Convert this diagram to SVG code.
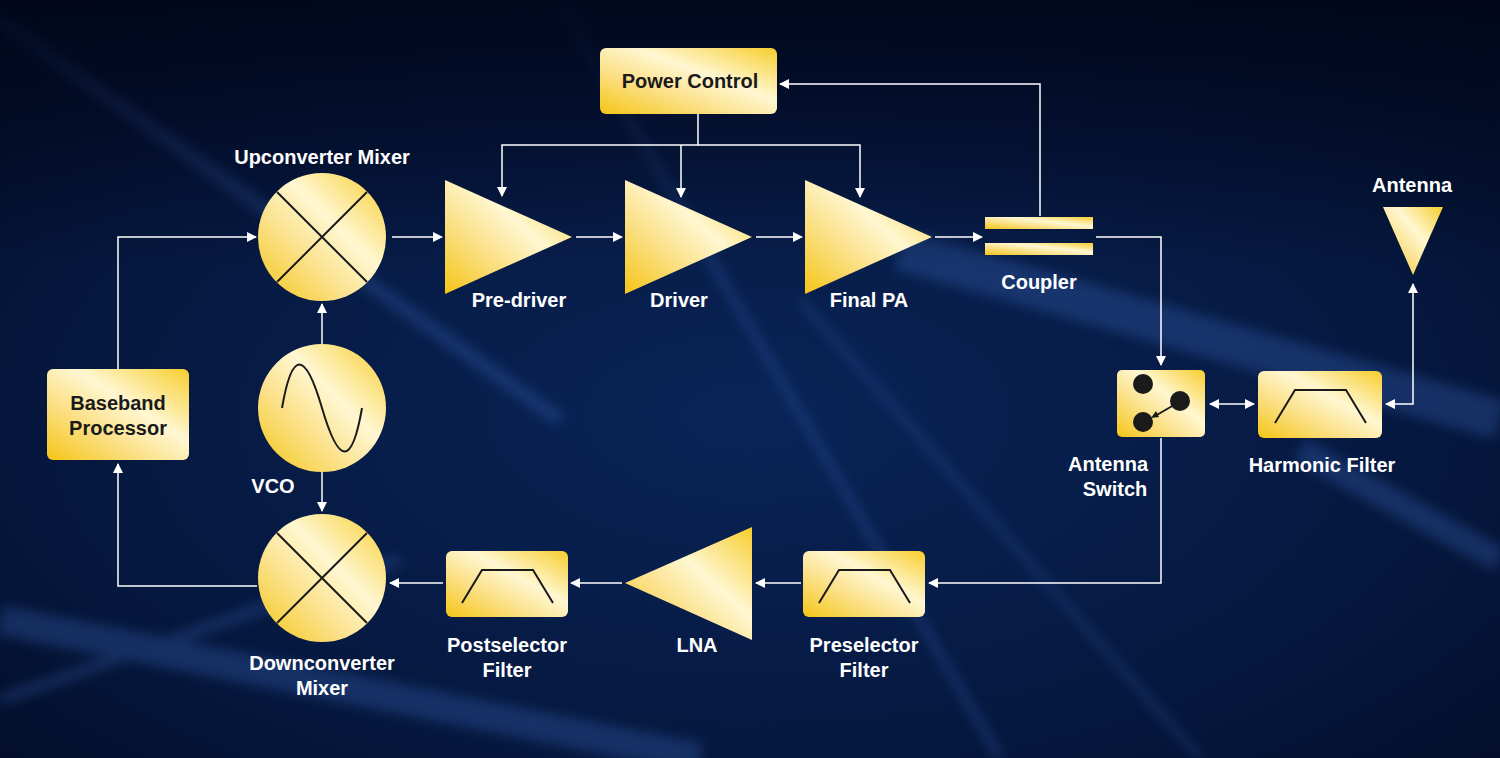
<svg xmlns="http://www.w3.org/2000/svg" width="1500" height="758" viewBox="0 0 1500 758">
<defs>
<radialGradient id="bg" cx="0.5" cy="0.55" r="0.8"><stop offset="0" stop-color="#0a2458"/><stop offset="0.6" stop-color="#05173d"/><stop offset="1" stop-color="#020a20"/></radialGradient>
<linearGradient id="top" x1="0" y1="0" x2="0" y2="1"><stop offset="0" stop-color="#01061a" stop-opacity="0.9"/><stop offset="0.35" stop-color="#01061a" stop-opacity="0"/></linearGradient>
<linearGradient id="gold" x1="0" y1="1" x2="1" y2="0"><stop offset="0" stop-color="#f5c516"/><stop offset="0.35" stop-color="#fbe18a"/><stop offset="0.6" stop-color="#fff7d2"/><stop offset="1" stop-color="#f7cd2c"/></linearGradient>
<filter id="blur" x="-10%" y="-10%" width="120%" height="120%"><feGaussianBlur stdDeviation="6"/></filter>
<marker id="ar" viewBox="0 0 10 10" refX="9" refY="5" markerWidth="10" markerHeight="10" markerUnits="userSpaceOnUse" orient="auto-start-reverse"><path d="M0,0 L10,5 L0,10 z" fill="#fff"/></marker>
<style>
.n{fill:url(#gold)}
.t{font-family:"Liberation Sans",Arial,sans-serif;font-weight:bold;font-size:20px;fill:#fff;text-anchor:middle}
.bt{font-family:"Liberation Sans",Arial,sans-serif;font-weight:bold;font-size:20px;fill:#1a1a1a;text-anchor:middle}
.x{stroke:#1a1a1a;stroke-width:2;fill:none}
.c{stroke:#fff;stroke-width:1.5;fill:none;marker-end:url(#ar)}
</style>
</defs>
<rect width="1500" height="758" fill="url(#bg)"/>
<g filter="url(#blur)" stroke="#3d6ac0" fill="none" opacity="0.3">
<path d="M0,20 L560,420" stroke-width="14"/>
<path d="M560,0 L1000,758" stroke-width="8"/>
<path d="M800,300 L1200,758" stroke-width="6"/>
<path d="M0,620 L700,758" stroke-width="30"/>
<path d="M900,250 L1500,420" stroke-width="40"/>
<path d="M1300,450 L1500,560" stroke-width="25"/>
<path d="M0,700 L400,560" stroke-width="10"/>
</g>
<rect width="1500" height="758" fill="url(#top)"/>
<g id="connectors">
<path class="c" d="M118,369 V237 H256"/>
<path class="c" d="M392,237 H442"/>
<path class="c" d="M576,237 H622"/>
<path class="c" d="M756,237 H802"/>
<path class="c" d="M935,237 H982"/>
<path class="c" d="M1096,237 H1161 V365"/>
<path class="c" d="M1040,216 V84 H780"/>
<path class="c" d="M698,114 V145 H502 V196"/>
<path class="c" d="M681,145 V197"/>
<path class="c" d="M698,145 H860 V197"/>
<path class="c" d="M1210,404 H1254" style="marker-start:url(#ar)"/>
<path class="c" d="M1386,404 H1413 V284" style="marker-start:url(#ar)"/>
<path class="c" d="M1161,438 V583 H929"/>
<path class="c" d="M801,583 H756"/>
<path class="c" d="M622,583 H571"/>
<path class="c" d="M443,583 H390"/>
<path class="c" d="M257,586 H118 V464"/>
<path class="c" d="M322,344 V304"/>
<path class="c" d="M322,472 V511"/>
</g>
<g id="power-control"><rect class="n" x="600" y="48" width="177" height="66" rx="6"/><text class="bt" x="690" y="88">Power Control</text></g>
<g id="upconverter-mixer"><circle class="n" cx="322" cy="237" r="64"/><path class="x" d="M277,192 L367,282 M367,192 L277,282"/><text class="t" x="322" y="164">Upconverter Mixer</text></g>
<g id="pre-driver"><path class="n" d="M445,180 L572,237 L445,294 z"/><text class="t" x="519" y="307">Pre-driver</text></g>
<g id="driver"><path class="n" d="M625,180 L752,237 L625,294 z"/><text class="t" x="679" y="307">Driver</text></g>
<g id="final-pa"><path class="n" d="M805,180 L932,237 L805,294 z"/><text class="t" x="869" y="307">Final PA</text></g>
<g id="coupler"><rect class="n" x="985" y="217" width="108" height="12"/><rect class="n" x="985" y="243" width="108" height="12"/><text class="t" x="1039" y="289">Coupler</text></g>
<g id="antenna"><path class="n" d="M1383,207 L1443,207 L1413,275 z"/><text class="t" x="1412" y="192">Antenna</text></g>
<g id="antenna-switch"><rect class="n" x="1117" y="370" width="88" height="67" rx="5"/><circle cx="1143" cy="384" r="10" fill="#1a1a1a"/><circle cx="1180" cy="401" r="10" fill="#1a1a1a"/><circle cx="1143" cy="422" r="10" fill="#1a1a1a"/><path d="M1174,405 L1155,416" stroke="#1a1a1a" stroke-width="2"/><path d="M1151,418 L1156,411 L1159,417 z" fill="#1a1a1a"/><text class="t" x="1108" y="471">Antenna</text><text class="t" x="1115" y="496">Switch</text></g>
<g id="harmonic-filter"><rect class="n" x="1258" y="371" width="124" height="67" rx="6"/><path class="x" d="M1275,423 L1295,390 L1346,390 L1366,423"/><text class="t" x="1322" y="472">Harmonic Filter</text></g>
<g id="preselector-filter"><rect class="n" x="803" y="551" width="122" height="66" rx="6"/><path class="x" d="M819,603 L839,570 L890,570 L910,603"/><text class="t" x="864" y="652">Preselector</text><text class="t" x="864" y="677">Filter</text></g>
<g id="lna"><path class="n" d="M752,527 L752,640 L625,583 z"/><text class="t" x="697" y="652">LNA</text></g>
<g id="postselector-filter"><rect class="n" x="446" y="551" width="122" height="66" rx="6"/><path class="x" d="M462,603 L482,570 L533,570 L553,603"/><text class="t" x="507" y="652">Postselector</text><text class="t" x="507" y="677">Filter</text></g>
<g id="downconverter-mixer"><circle class="n" cx="322" cy="578" r="64"/><path class="x" d="M277,533 L367,623 M367,533 L277,623"/><text class="t" x="322" y="670">Downconverter</text><text class="t" x="322" y="695">Mixer</text></g>
<g id="vco"><circle class="n" cx="322" cy="408" r="64"/><path class="x" d="M282,408 C292,350 305,350 322,408 C339,466 352,466 362,408"/><text class="t" x="273" y="493">VCO</text></g>
<g id="baseband-processor"><rect class="n" x="47" y="369" width="142" height="91" rx="6"/><text class="bt" x="118" y="410">Baseband</text><text class="bt" x="118" y="435">Processor</text></g>
</svg>
